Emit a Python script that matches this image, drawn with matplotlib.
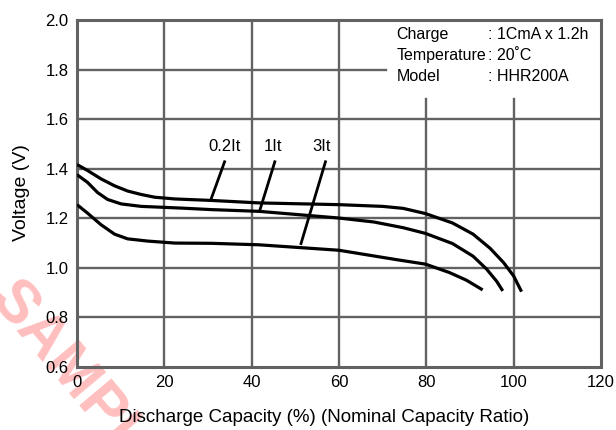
import matplotlib
matplotlib.use("Agg")
import matplotlib.pyplot as plt

plt.rcParams['font.family'] = ['Liberation Sans', 'DejaVu Sans']

# =================== DADOS ===================
cap_02 = [0, 2.4, 5.5, 8.6, 11.6, 14.7, 17.8, 22.4, 30.8, 41.7, 60, 70.0, 74.7,
          79.8, 86.0, 90.7, 94.6, 97.7, 100, 101.8]
volt_02 = [1.417, 1.393, 1.359, 1.331, 1.310, 1.296, 1.285, 1.278, 1.272, 1.262,
           1.255, 1.248, 1.240, 1.219, 1.181, 1.136, 1.079, 1.021, 0.967, 0.904]

cap_1 = [0, 2.4, 4.7, 7.0, 10.1, 14.7, 20.1, 24.0, 30.8, 41.7, 60, 68.0, 74.7,
         79.8, 86.0, 90.7, 93.8, 96.1, 97.5]
volt_1 = [1.376, 1.345, 1.304, 1.276, 1.258, 1.248, 1.244, 1.241, 1.235, 1.228,
          1.201, 1.185, 1.162, 1.139, 1.098, 1.047, 0.995, 0.946, 0.907]

cap_3 = [0, 2.4, 5.5, 8.6, 11.6, 16.2, 22.4, 30.8, 41.7, 60, 73.2, 79.8, 85.3,
         89.2, 92.9]
volt_3 = [1.255, 1.221, 1.174, 1.136, 1.117, 1.108, 1.100, 1.099, 1.093, 1.071,
          1.033, 1.015, 0.981, 0.950, 0.911]

rotulos = ['0.2It', '1It', '3It']
x_ticks = [0, 20, 40, 60, 80, 100, 120]
y_ticks = [0.6, 0.8, 1.0, 1.2, 1.4, 1.6, 1.8, 2.0]

cond_nomes = ['Charge', 'Temperature', 'Model']
cond_valores = [': 1CmA x 1.2h', ': 20\u02daC', ': HHR200A']

# =================== FIGURA ===================
fig = plt.figure(figsize=(6.16, 4.30), dpi=100)
ax = fig.add_axes([77 / 616, 63 / 430, 524 / 616, 347 / 430])
ax.patch.set_alpha(0)

ax.set_xlim(0, 120)
ax.set_ylim(0.6, 2.0)

grade = '#626262'
# grade (canto superior direito fica livre para a caixa de condições)
for y in [0.8, 1.0, 1.2, 1.4, 1.6]:
    ax.plot([0, 120], [y, y], color=grade, lw=1.7, zorder=1)
ax.plot([0, 70.8], [1.8, 1.8], color=grade, lw=1.7, zorder=1)
for x in [20, 40, 60]:
    ax.plot([x, x], [0.6, 2.0], color=grade, lw=1.7, zorder=1)
for x in [80, 100]:
    ax.plot([x, x], [0.6, 1.682], color=grade, lw=1.7, zorder=1)

for s in ax.spines.values():
    s.set_color(grade)
    s.set_linewidth(2.2)

for xs, ys in [(cap_02, volt_02), (cap_1, volt_1), (cap_3, volt_3)]:
    ax.plot(xs, ys, color='black', lw=2.3, solid_capstyle='butt', zorder=3)

# rótulos das curvas
pos_txt = [(33.8, 1.488), (44.8, 1.488), (55.9, 1.488)]
pos_linha = [((33.8, 1.428), (30.8, 1.282)),
             ((45.3, 1.428), (41.9, 1.234)),
             ((56.9, 1.428), (51.3, 1.098))]
for r, (tx, ty), ((x0, y0), (x1, y1)) in zip(rotulos, pos_txt, pos_linha):
    ax.text(tx, ty, r, ha='center', va='center', fontsize=12, zorder=4)
    ax.plot([x0, x1], [y0, y1], color='black', lw=2, zorder=4)

for nome, valor, y in zip(cond_nomes, cond_valores, [1.941, 1.855, 1.773]):
    ax.text(73.2, y, nome, ha='left', va='center', fontsize=11.5)
    ax.text(94.2, y, valor, ha='left', va='center', fontsize=11.5)

ax.set_xticks(x_ticks)
ax.set_xticklabels([str(v) for v in x_ticks])
ax.set_yticks(y_ticks)
ax.set_yticklabels([f'{v:.1f}' for v in y_ticks])
ax.tick_params(length=0, labelsize=12, pad=6)

fig.text(22 / 616, 1 - 193 / 430, 'Voltage (V)', rotation=90, ha='center',
         va='center', fontsize=14)
fig.text(324 / 616, 1 - 418 / 430, 'Discharge Capacity (%) (Nominal Capacity Ratio)',
         ha='center', va='center', fontsize=13.5)

# marca d'água
fig.text(81 / 616, 1 - 387 / 430, 'SAMPLE', rotation=-50, ha='center', va='center',
         rotation_mode='anchor', fontsize=44, fontweight='bold', color='#ff8a8a',
         alpha=0.55, zorder=-1)

fig.savefig('out.png', dpi=100)
